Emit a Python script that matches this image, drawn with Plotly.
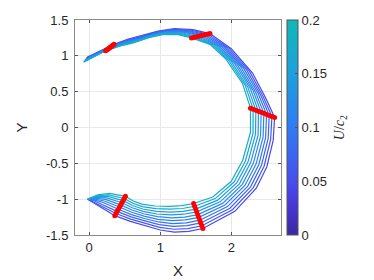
import plotly.graph_objects as go
from plotly.colors import sample_colorscale

# U/c2 value of each curve (outermost -> innermost)
u_values = [0.045, 0.06, 0.075, 0.09, 0.105, 0.12, 0.135, 0.15, 0.165, 0.18]

curve_x = [
    [-0.03, 0.35, 0.55, 0.74, 0.97, 1.20, 1.46, 1.70, 2.00, 2.30, 2.49, 2.61, 2.59, 2.50, 2.35, 2.05, 1.60, 1.40, 1.20, 1.0, 0.80, 0.58, 0.36, 0.15, 0.06, -0.02],
    [-0.036, 0.337, 0.537, 0.727, 0.956, 1.183, 1.437, 1.671, 1.967, 2.258, 2.453, 2.572, 2.554, 2.462, 2.311, 2.016, 1.586, 1.389, 1.192, 0.992, 0.793, 0.584, 0.377, 0.166, 0.067, -0.02],
    [-0.041, 0.323, 0.523, 0.713, 0.941, 1.167, 1.413, 1.642, 1.933, 2.216, 2.417, 2.534, 2.519, 2.424, 2.272, 1.981, 1.571, 1.378, 1.184, 0.984, 0.787, 0.589, 0.393, 0.181, 0.073, -0.02],
    [-0.047, 0.31, 0.51, 0.70, 0.927, 1.15, 1.39, 1.613, 1.90, 2.173, 2.38, 2.497, 2.483, 2.387, 2.233, 1.947, 1.557, 1.367, 1.177, 0.977, 0.78, 0.593, 0.41, 0.197, 0.08, -0.02],
    [-0.052, 0.297, 0.497, 0.687, 0.912, 1.133, 1.367, 1.584, 1.867, 2.131, 2.343, 2.459, 2.448, 2.349, 2.194, 1.912, 1.542, 1.356, 1.169, 0.969, 0.773, 0.598, 0.427, 0.212, 0.087, -0.02],
    [-0.058, 0.283, 0.483, 0.673, 0.898, 1.117, 1.343, 1.556, 1.833, 2.089, 2.307, 2.421, 2.412, 2.311, 2.156, 1.878, 1.528, 1.344, 1.161, 0.961, 0.767, 0.602, 0.443, 0.228, 0.093, -0.02],
    [-0.063, 0.27, 0.47, 0.66, 0.883, 1.10, 1.32, 1.527, 1.80, 2.047, 2.27, 2.383, 2.377, 2.273, 2.117, 1.843, 1.513, 1.333, 1.153, 0.953, 0.76, 0.607, 0.46, 0.243, 0.10, -0.02],
    [-0.069, 0.257, 0.457, 0.647, 0.869, 1.083, 1.297, 1.498, 1.767, 2.004, 2.233, 2.346, 2.341, 2.236, 2.078, 1.809, 1.499, 1.322, 1.146, 0.946, 0.753, 0.611, 0.477, 0.259, 0.107, -0.02],
    [-0.074, 0.243, 0.443, 0.633, 0.854, 1.067, 1.273, 1.469, 1.733, 1.962, 2.197, 2.308, 2.306, 2.198, 2.039, 1.774, 1.484, 1.311, 1.138, 0.938, 0.747, 0.616, 0.493, 0.274, 0.113, -0.02],
    [-0.08, 0.23, 0.43, 0.62, 0.84, 1.05, 1.25, 1.44, 1.70, 1.92, 2.16, 2.27, 2.27, 2.16, 2.00, 1.74, 1.47, 1.30, 1.13, 0.93, 0.74, 0.62, 0.51, 0.29, 0.12, -0.02],
]

curve_y = [
    [0.98, 1.16, 1.235, 1.28, 1.345, 1.38, 1.365, 1.31, 1.10, 0.76, 0.40, 0.14, -0.18, -0.55, -0.85, -1.17, -1.41, -1.45, -1.46, -1.43, -1.37, -1.31, -1.23, -1.11, -1.05, -1.00],
    [0.972, 1.15, 1.224, 1.269, 1.335, 1.371, 1.357, 1.303, 1.107, 0.782, 0.423, 0.154, -0.168, -0.54, -0.839, -1.148, -1.371, -1.41, -1.42, -1.393, -1.337, -1.278, -1.20, -1.089, -1.038, -1.00],
    [0.964, 1.14, 1.213, 1.258, 1.325, 1.362, 1.349, 1.297, 1.113, 0.804, 0.447, 0.169, -0.156, -0.53, -0.828, -1.126, -1.332, -1.37, -1.38, -1.356, -1.303, -1.247, -1.17, -1.068, -1.026, -1.00],
    [0.957, 1.13, 1.202, 1.247, 1.315, 1.353, 1.342, 1.29, 1.12, 0.827, 0.47, 0.183, -0.143, -0.52, -0.817, -1.103, -1.293, -1.33, -1.34, -1.318, -1.27, -1.215, -1.14, -1.047, -1.013, -1.00],
    [0.949, 1.12, 1.191, 1.236, 1.305, 1.344, 1.334, 1.283, 1.127, 0.849, 0.493, 0.198, -0.131, -0.51, -0.806, -1.081, -1.254, -1.29, -1.30, -1.281, -1.237, -1.183, -1.11, -1.026, -1.001, -1.00],
    [0.941, 1.11, 1.179, 1.224, 1.295, 1.336, 1.326, 1.277, 1.133, 0.871, 0.517, 0.212, -0.119, -0.50, -0.794, -1.059, -1.216, -1.25, -1.26, -1.244, -1.203, -1.152, -1.08, -1.004, -0.989, -1.00],
    [0.933, 1.10, 1.168, 1.213, 1.285, 1.327, 1.318, 1.27, 1.14, 0.893, 0.54, 0.227, -0.107, -0.49, -0.783, -1.037, -1.177, -1.21, -1.22, -1.207, -1.17, -1.12, -1.05, -0.983, -0.977, -1.00],
    [0.926, 1.09, 1.157, 1.202, 1.275, 1.318, 1.311, 1.263, 1.147, 0.916, 0.563, 0.241, -0.094, -0.48, -0.772, -1.014, -1.138, -1.17, -1.18, -1.169, -1.137, -1.088, -1.02, -0.962, -0.964, -1.00],
    [0.918, 1.08, 1.146, 1.191, 1.265, 1.309, 1.303, 1.257, 1.153, 0.938, 0.587, 0.256, -0.082, -0.47, -0.761, -0.992, -1.099, -1.13, -1.14, -1.132, -1.103, -1.057, -0.99, -0.941, -0.952, -1.00],
    [0.91, 1.07, 1.135, 1.18, 1.255, 1.30, 1.295, 1.25, 1.16, 0.96, 0.61, 0.27, -0.07, -0.46, -0.75, -0.97, -1.06, -1.09, -1.10, -1.095, -1.07, -1.025, -0.96, -0.92, -0.94, -1.00],
]

# indices along the curves where the red cross-cuts are drawn
cut_indices = [1, 7, 11, 16, 22]

colorbar_ticks = [0, 0.05, 0.1, 0.15, 0.2]
colorbar_ticklabels = ["0", "0.05", "0.1", "0.15", "0.2"]
x_ticks = [0, 1, 2]
y_ticks = [-1.5, -1, -0.5, 0, 0.5, 1, 1.5]
y_ticklabels = ["-1.5", "-1", "-0.5", "0", "0.5", "1", "1.5"]

cmin, cmax = 0.0, 0.2
cscale = [
    [0.0, "rgb(60,40,160)"],
    [0.12, "rgb(70,52,210)"],
    [0.25, "rgb(72,78,240)"],
    [0.5, "rgb(46,124,245)"],
    [0.75, "rgb(28,160,222)"],
    [1.0, "rgb(18,184,182)"],
]

fig = go.Figure()

for xs, ys, u in zip(curve_x, curve_y, u_values):
    col = sample_colorscale(cscale, [(u - cmin) / (cmax - cmin)])[0]
    fig.add_trace(go.Scatter(x=xs, y=ys, mode="lines",
                             line=dict(color=col, width=1.2),
                             showlegend=False, hoverinfo="skip"))

for j in cut_indices:
    fig.add_trace(go.Scatter(x=[c[j] for c in curve_x], y=[c[j] for c in curve_y],
                             mode="lines+markers",
                             line=dict(color="rgb(255,0,0)", width=3),
                             marker=dict(color="rgb(255,0,0)", size=5),
                             showlegend=False, hoverinfo="skip"))

# colorbar carrier
fig.add_trace(go.Scatter(
    x=[None, None], y=[None, None], mode="markers",
    marker=dict(color=[cmin, cmax], cmin=cmin, cmax=cmax, colorscale=cscale,
                size=0, showscale=True,
                colorbar=dict(
                    x=1.029, xanchor="left", xpad=0,
                    y=0.5, yanchor="middle", ypad=0,
                    len=1.0, lenmode="fraction",
                    thickness=11,
                    outlinecolor="#555555", outlinewidth=1,
                    tickmode="array", tickvals=colorbar_ticks, ticktext=colorbar_ticklabels,
                    ticks="inside", ticklen=3, tickcolor="#555555",
                    tickfont=dict(family="Liberation Sans, Arial", size=13, color="#262626"),
                )),
    showlegend=False, hoverinfo="skip"))

fig.add_annotation(
    text="<i>U</i>/<i>c</i><sub>2</sub>", xref="paper", yref="paper",
    x=1.29, y=0.5, xanchor="center", yanchor="middle", textangle=-90,
    showarrow=False,
    font=dict(family="Liberation Serif, Times New Roman", size=14, color="#262626"),
)

axis_common = dict(
    showgrid=True, gridcolor="#e8e8e8", gridwidth=1,
    zeroline=False,
    showline=True, linecolor="#8a8a8a", linewidth=1, mirror="ticks",
    ticks="inside", ticklen=3, tickcolor="#555555",
    tickfont=dict(family="Liberation Sans, Arial", size=13, color="#262626"),
    automargin=False,
)

fig.update_xaxes(range=[-0.2, 2.7], tickmode="array", tickvals=x_ticks,
                 title=dict(text="X", font=dict(family="Liberation Sans, Arial", size=15, color="#262626"), standoff=11),
                 **axis_common)
fig.update_yaxes(range=[-1.5, 1.5], tickmode="array", tickvals=y_ticks, ticktext=y_ticklabels,
                 title=dict(text="Y", font=dict(family="Liberation Sans, Arial", size=15, color="#262626"), standoff=14),
                 ticklabelstandoff=3,
                 **axis_common)

fig.update_layout(
    width=366, height=272,
    margin=dict(l=67, r=93, t=12, b=45, autoexpand=False),
    paper_bgcolor="white", plot_bgcolor="white",
)

fig.write_html("out.html")
